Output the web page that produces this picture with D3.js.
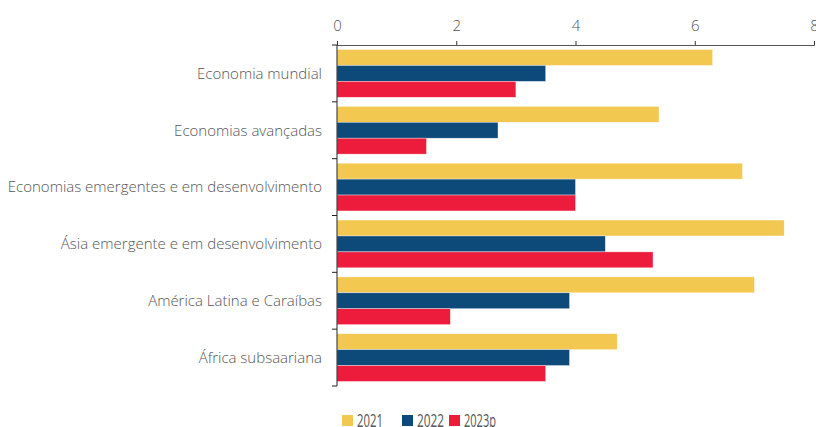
<!DOCTYPE html>
<html>
<head>
<meta charset="utf-8">
<script src="https://cdn.jsdelivr.net/npm/d3@7"></script>
<style>
  body { margin: 0; background: #fff; }
  svg { display: block; font-family: 'Open Sans', sans-serif; }
  .lab text { fill: #555; font-weight: 300; font-size: 15px; }
  .leg text { fill: #555; font-weight: 400; font-size: 17.5px; }
</style>
</head>
<body>
<svg id="chart" width="816" height="427"></svg>
<script>
// data
const categories = [
  'Economia mundial',
  'Economias avançadas',
  'Economias emergentes e em desenvolvimento',
  'Ásia emergente e em desenvolvimento',
  'América Latina e Caraíbas',
  'África subsaariana'
]
const series = ['2021', '2022', '2023p']
const values2021 = [6.3, 5.4, 6.8, 7.5, 7.0, 4.7]
const values2022 = [3.5, 2.7, 4.0, 4.5, 3.9, 3.9]
const values2023 = [3.0, 1.5, 4.0, 5.3, 1.9, 3.5]
const xTicks = [0, 2, 4, 6, 8]

const colors = d3.scaleOrdinal().domain(series).range(['#f3c851', '#0d4a7a', '#ed1c3c'])

const svg = d3.select('#chart')
const margin = { top: 45, left: 337, right: 2, bottom: 41 }
const width = 816 - margin.left - margin.right
const height = 427 - margin.top - margin.bottom

const rows = categories.map(function (c, i) {
  return { cat: c, vals: [values2021[i], values2022[i], values2023[i]] }
})

const x = d3.scaleLinear().domain([0, 8]).range([0, width])
const y = d3.scaleBand().domain(categories).range([0, height]).paddingInner(0.16).paddingOuter(0.08)
const ySub = d3.scaleBand().domain(series).range([0, y.bandwidth()])

const g = svg.append('g').attr('transform', 'translate(' + margin.left + ',' + margin.top + ')')

// bars
const grp = g.selectAll('.grp')
  .data(rows)
  .enter()
  .append('g')
  .attr('class', 'grp')
  .attr('transform', d => 'translate(0,' + y(d.cat) + ')')

grp.selectAll('rect')
  .data(d => d.vals.map((v, j) => ({ key: series[j], value: v })))
  .enter()
  .append('rect')
  .attr('x', 0)
  .attr('y', d => ySub(d.key))
  .attr('width', d => x(d.value))
  .attr('height', ySub.bandwidth())
  .attr('fill', d => colors(d.key))
  .attr('stroke', 'rgba(255,255,255,0.6)')
  .attr('stroke-width', 0.6)

// top axis
const xAxis = g.append('g')
  .call(d3.axisTop(x).tickValues(xTicks).tickSize(4).tickPadding(10).tickFormat(d3.format('d')))
xAxis.select('.domain').attr('stroke', '#555')
xAxis.selectAll('.tick line').attr('stroke', '#333')
xAxis.selectAll('text')
  .attr('fill', '#555')
  .style('font-family', 'Open Sans, sans-serif')
  .style('font-weight', 300)
  .style('font-size', '15px')

// category boundaries on the left axis
const bounds = d3.range(categories.length + 1).map(i => i * y.step())
const yAxisG = g.append('g')
yAxisG.append('line')
  .attr('x1', 0).attr('x2', 0)
  .attr('y1', 0).attr('y2', height)
  .attr('stroke', '#222')
yAxisG.selectAll('.bt')
  .data(bounds)
  .enter()
  .append('line')
  .attr('class', 'bt')
  .attr('x1', -5).attr('x2', 0)
  .attr('y1', d => d).attr('y2', d => d)
  .attr('stroke', '#222')

// category labels
g.append('g').attr('class', 'lab')
  .selectAll('text')
  .data(categories)
  .enter()
  .append('text')
  .attr('x', -15)
  .attr('y', d => y(d) + y.bandwidth() / 2)
  .attr('dy', '0.35em')
  .attr('text-anchor', 'end')
  .text(d => d)

// legend (condensed look via textLength)
const legX = [342, 402, 449]
const legW = [26, 27, 32]
const leg = svg.append('g').attr('class', 'leg')
  .selectAll('g')
  .data(series)
  .enter()
  .append('g')
  .attr('transform', (d, i) => 'translate(' + legX[i] + ',415)')
leg.append('rect').attr('width', 11).attr('height', 11).attr('fill', d => colors(d))
leg.append('text')
  .attr('x', 15)
  .attr('y', 12)
  .attr('textLength', (d, i) => legW[i])
  .attr('lengthAdjust', 'spacingAndGlyphs')
  .text(d => d)
</script>
</body>
</html>
